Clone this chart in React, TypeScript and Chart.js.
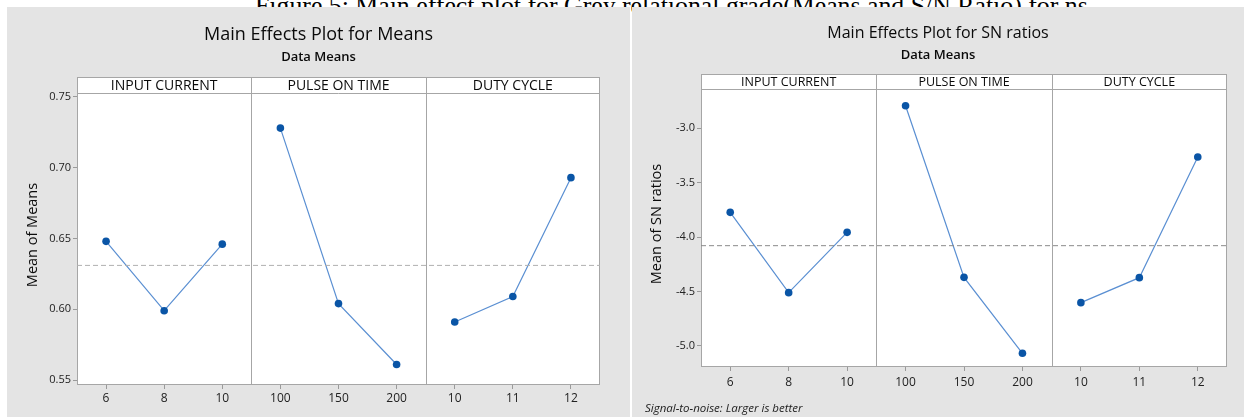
import React, { useEffect, useRef } from "react";
import { Chart, registerables } from "chart.js";

Chart.register(...registerables);

const CAPTION = "Figure 5: Main effect plot for Grey relational grade(Means and S/N Ratio) for ns";

const FACTORS = ["INPUT CURRENT", "PULSE ON TIME", "DUTY CYCLE"];
const INPUT_CURRENT_LEVELS = ["6", "8", "10"];
const PULSE_ON_TIME_LEVELS = ["100", "150", "200"];
const DUTY_CYCLE_LEVELS = ["10", "11", "12"];

const MEANS_INPUT_CURRENT = [0.648, 0.599, 0.646];
const MEANS_PULSE_ON_TIME = [0.728, 0.604, 0.561];
const MEANS_DUTY_CYCLE = [0.591, 0.609, 0.693];

const SN_INPUT_CURRENT = [-3.773, -4.512, -3.957];
const SN_PULSE_ON_TIME = [-2.792, -4.371, -5.07];
const SN_DUTY_CYCLE = [-4.604, -4.374, -3.264];

const MEANS_TICKS = [0.55, 0.6, 0.65, 0.7, 0.75];
const SN_TICKS = [-5.0, -4.5, -4.0, -3.5, -3.0];

const FONT = "'Open Sans', 'Noto Sans', sans-serif";

type Spec = {
  width: number;
  height: number;
  area: { left: number; right: number; top: number; bottom: number };
  stripH: number;
  stripFont: number;
  title: string;
  titleSize: number;
  titleY: number;
  subtitle: string;
  subtitleSize: number;
  subtitleY: number;
  yTitle: string;
  yTitleX: number;
  yTitleSize: number;
  yMin: number;
  yMax: number;
  ticks: number[];
  decimals: number;
  series: number[][];
  meanColor: string;
  xLabelPad: number;
  footnote?: string;
};

function buildChart(canvas: HTMLCanvasElement, s: Spec) {
  const levels = [...INPUT_CURRENT_LEVELS, ...PULSE_ON_TIME_LEVELS, ...DUTY_CYCLE_LEVELS];
  const all = s.series.flat();
  const grand = all.reduce((a, b) => a + b, 0) / all.length;
  const yW = 40;
  const xH = 30;

  const datasets: any[] = [
    {
      data: [
        { x: 0, y: grand },
        { x: 9, y: grand },
      ],
      borderColor: s.meanColor,
      borderDash: [5, 3],
      borderWidth: 1,
      pointRadius: 0,
    },
  ];
  s.series.forEach((vals, f) => {
    datasets.push({
      data: vals.map((v, i) => ({ x: f * 3 + i + 0.5, y: v })),
      borderColor: "#5a8fd2",
      borderWidth: 1.2,
      pointRadius: 3.8,
      pointBackgroundColor: "#0a55a6",
      pointBorderColor: "#0a55a6",
      pointBorderWidth: 0,
      tension: 0,
    });
  });

  const decor = {
    id: "decor",
    beforeDraw(chart: any) {
      const ctx = chart.ctx;
      const a = chart.chartArea;
      ctx.save();
      ctx.fillStyle = "#ffffff";
      ctx.fillRect(a.left, a.top - s.stripH, a.right - a.left, a.bottom - a.top + s.stripH);
      ctx.fillStyle = "#0a0a0a";
      ctx.textAlign = "center";
      ctx.textBaseline = "middle";
      ctx.font = `500 ${s.titleSize}px ${FONT}`;
      ctx.fillText(s.title, s.width / 2, s.titleY);
      ctx.font = `600 ${s.subtitleSize}px ${FONT}`;
      ctx.fillText(s.subtitle, s.width / 2, s.subtitleY);
      ctx.save();
      ctx.translate(s.yTitleX, (a.top + a.bottom) / 2 - 4);
      ctx.rotate(-Math.PI / 2);
      ctx.font = `${s.yTitleSize}px ${FONT}`;
      ctx.fillText(s.yTitle, 0, 0);
      ctx.restore();
      if (s.footnote) {
        ctx.font = `italic 11.5px ${FONT}`;
        ctx.textAlign = "left";
        ctx.fillStyle = "#222";
        ctx.fillText(s.footnote, 13, s.height - 8);
      }
      ctx.restore();
    },
    beforeDatasetsDraw(chart: any) {
      const ctx = chart.ctx;
      const a = chart.chartArea;
      const xs = chart.scales.x;
      const L = Math.round(a.left) + 0.5;
      const R = Math.round(a.right) - 0.5;
      const T = Math.round(a.top) + 0.5;
      const B = Math.round(a.bottom) - 0.5;
      const ST = T - s.stripH;
      ctx.save();
      ctx.strokeStyle = "#a6a6a6";
      ctx.lineWidth = 1;
      ctx.strokeRect(L, ST, R - L, B - ST);
      ctx.beginPath();
      ctx.moveTo(L, T);
      ctx.lineTo(R, T);
      [3, 6].forEach((v) => {
        const px = Math.round(xs.getPixelForValue(v)) + 0.5;
        ctx.moveTo(px, ST);
        ctx.lineTo(px, B);
      });
      ctx.stroke();
      ctx.fillStyle = "#0a0a0a";
      ctx.textAlign = "center";
      ctx.textBaseline = "middle";
      ctx.font = `${s.stripFont}px ${FONT}`;
      FACTORS.forEach((name, f) => {
        const cx = (xs.getPixelForValue(f * 3) + xs.getPixelForValue(f * 3 + 3)) / 2;
        ctx.fillText(name, cx, ST + s.stripH / 2 + 0.5);
      });
      ctx.restore();
    },
  };

  return new Chart(canvas, {
    type: "line",
    data: { datasets },
    plugins: [decor],
    options: {
      animation: false,
      responsive: false,
      maintainAspectRatio: false,
      events: [],
      layout: {
        padding: {
          left: s.area.left - yW,
          right: s.width - s.area.right,
          top: s.area.top,
          bottom: s.height - s.area.bottom - xH,
        },
      },
      plugins: { legend: { display: false }, tooltip: { enabled: false }, title: { display: false } },
      scales: {
        x: {
          type: "linear",
          min: 0,
          max: 9,
          afterFit: (sc: any) => {
            sc.height = xH;
          },
          afterBuildTicks: (sc: any) => {
            sc.ticks = levels.map((_, i) => ({ value: i + 0.5 }));
          },
          ticks: {
            autoSkip: false,
            maxRotation: 0,
            padding: s.xLabelPad,
            color: "#222",
            font: { family: FONT, size: 12 },
            callback: (v: any) => levels[Math.round(Number(v) - 0.5)],
          },
          grid: { drawOnChartArea: false, drawTicks: true, tickLength: 4, color: "#9a9a9a" },
          border: { display: false },
        },
        y: {
          type: "linear",
          min: s.yMin,
          max: s.yMax,
          afterFit: (sc: any) => {
            sc.width = yW;
          },
          afterBuildTicks: (sc: any) => {
            sc.ticks = s.ticks.map((v) => ({ value: v }));
          },
          ticks: {
            padding: 2,
            color: "#222",
            font: { family: FONT, size: 11 },
            callback: (v: any) => Number(v).toFixed(s.decimals),
          },
          grid: { drawOnChartArea: false, drawTicks: true, tickLength: 4, color: "#9a9a9a" },
          border: { display: false },
        },
      },
    } as any,
  });
}

const LEFT_SPEC: Spec = {
  width: 623,
  height: 410,
  area: { left: 70, right: 593, top: 86, bottom: 378 },
  stripH: 16,
  stripFont: 14,
  title: "Main Effects Plot for Means",
  titleSize: 18,
  titleY: 28,
  subtitle: "Data Means",
  subtitleSize: 13,
  subtitleY: 50,
  yTitle: "Mean of Means",
  yTitleX: 26,
  yTitleSize: 14.5,
  yMin: 0.5465,
  yMax: 0.7528,
  ticks: MEANS_TICKS,
  decimals: 2,
  series: [MEANS_INPUT_CURRENT, MEANS_PULSE_ON_TIME, MEANS_DUTY_CYCLE],
  meanColor: "#b0b0b0",
  xLabelPad: 2,
};

const RIGHT_SPEC: Spec = {
  width: 612,
  height: 410,
  area: { left: 69, right: 595, top: 82, bottom: 360 },
  stripH: 15,
  stripFont: 12.5,
  title: "Main Effects Plot for SN ratios",
  titleSize: 16,
  titleY: 26,
  subtitle: "Data Means",
  subtitleSize: 13,
  subtitleY: 48,
  yTitle: "Mean of SN ratios",
  yTitleX: 25,
  yTitleSize: 14.5,
  yMin: -5.196,
  yMax: -2.638,
  ticks: SN_TICKS,
  decimals: 1,
  series: [SN_INPUT_CURRENT, SN_PULSE_ON_TIME, SN_DUTY_CYCLE],
  meanColor: "#8a8a8a",
  xLabelPad: 4,
  footnote: "Signal-to-noise: Larger is better",
};

function Panel({ spec, left }: { spec: Spec; left: number }) {
  const ref = useRef<HTMLCanvasElement | null>(null);
  useEffect(() => {
    if (!ref.current) return;
    const chart = buildChart(ref.current, spec);
    return () => chart.destroy();
  }, [spec]);
  return (
    <div
      style={{
        position: "absolute",
        left,
        top: 7,
        width: spec.width,
        height: spec.height,
        background: "#e4e4e4",
      }}
    >
      <canvas ref={ref} width={spec.width} height={spec.height} style={{ width: spec.width, height: spec.height, display: "block" }} />
    </div>
  );
}

export default function App() {
  return (
    <div
      style={{
        position: "absolute",
        left: 0,
        top: 0,
        width: 1244,
        height: 417,
        background: "#ffffff",
        overflow: "hidden",
      }}
    >
      <div
        style={{
          position: "absolute",
          left: 255,
          top: -6,
          fontFamily: "'Liberation Serif', 'Times New Roman', serif",
          fontSize: 25.8,
          lineHeight: "24px",
          whiteSpace: "nowrap",
          color: "#000",
        }}
      >
        {CAPTION}
      </div>
      <Panel spec={LEFT_SPEC} left={7} />
      <Panel spec={RIGHT_SPEC} left={632} />
    </div>
  );
}
